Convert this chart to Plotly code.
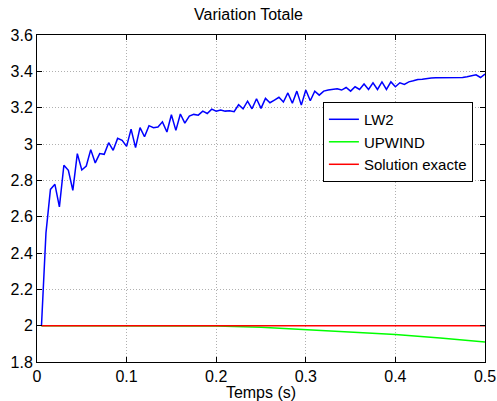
import plotly.graph_objects as go

# time grid (s), step 0.005
temps = [round(0.005 * k, 3) for k in range(1, 101)]

# Variation totale - schema LW2
tv_lw2 = [2.000, 2.510, 2.750, 2.778, 2.654, 2.883, 2.855, 2.745, 2.947, 2.857,
          2.879, 2.969, 2.896, 2.947, 2.943, 3.007, 2.965, 3.031, 3.020, 2.987,
          3.082, 2.980, 3.090, 3.040, 3.101, 3.090, 3.093, 3.122, 3.066, 3.161,
          3.075, 3.165, 3.115, 3.154, 3.163, 3.159, 3.181, 3.168, 3.192, 3.181,
          3.187, 3.181, 3.183, 3.178, 3.216, 3.194, 3.236, 3.194, 3.249, 3.196,
          3.251, 3.227, 3.242, 3.257, 3.231, 3.281, 3.224, 3.291, 3.214, 3.297,
          3.238, 3.291, 3.269, 3.291, 3.297, 3.300, 3.304, 3.297, 3.311, 3.291,
          3.315, 3.300, 3.330, 3.300, 3.337, 3.300, 3.342, 3.300, 3.342, 3.315,
          3.337, 3.328, 3.342, 3.348, 3.355, 3.357, 3.361, 3.363, 3.364, 3.364,
          3.364, 3.365, 3.365, 3.362, 3.366, 3.370, 3.374, 3.381, 3.366, 3.385]

# schema UPWIND (smooth curve)
temps_up = [0.005, 0.1, 0.15, 0.2, 0.25, 0.3, 0.35, 0.4, 0.45, 0.5]
tv_upwind = [2.000, 2.000, 2.000, 1.998, 1.991, 1.979, 1.966, 1.951, 1.932, 1.910]

# solution exacte
temps_ex = [0.005, 0.5]
tv_exacte = [2.0, 2.0]

FONT = "Liberation Sans, Arial, Helvetica, sans-serif"

fig = go.Figure()
fig.add_trace(go.Scatter(x=temps, y=tv_lw2, mode="lines", name="LW2",
                         line=dict(color="#0000FF", width=1.5)))
fig.add_trace(go.Scatter(x=temps_up, y=tv_upwind, mode="lines", name="UPWIND",
                         line=dict(color="#00FF00", width=1.5)))
fig.add_trace(go.Scatter(x=temps_ex, y=tv_exacte, mode="lines", name="Solution exacte",
                         line=dict(color="#FF0000", width=1.5)))

axis_style = dict(showline=True, linecolor="black", linewidth=1, mirror="ticks",
                  ticks="inside", ticklen=5, tickcolor="black", automargin=False,
                  showgrid=True, gridcolor="#b0b0b0", griddash="1px,2px", gridwidth=1,
                  zeroline=False, tickfont=dict(size=16, color="black", family=FONT))

fig.update_xaxes(range=[0, 0.5], dtick=0.1, tick0=0,
                 title=dict(text="Temps (s)", standoff=0,
                            font=dict(size=16, color="black", family=FONT)),
                 **axis_style)
fig.update_yaxes(range=[1.8, 3.6], dtick=0.2, tick0=1.8, **axis_style)

fig.update_layout(
    width=497, height=401,
    margin=dict(l=37, r=12, t=35, b=39, autoexpand=False),
    paper_bgcolor="white", plot_bgcolor="white",
    font=dict(family=FONT, size=16, color="black"),
    title=dict(text="Variation Totale", x=0.5, xanchor="center",
               y=0.965, yanchor="middle", font=dict(size=16, color="black")),
    showlegend=True,
    legend=dict(x=0.973, y=0.795, xanchor="right", yanchor="top",
                bgcolor="white", bordercolor="black", borderwidth=1,
                itemwidth=30, tracegroupgap=0,
                font=dict(size=15, color="black", family=FONT)),
)

# drop the browser's default 8px body margin so the chart sits at (0, 0)
fig.write_html("out.html", config={"displayModeBar": False},
               post_script="document.body.style.margin='0';document.body.style.overflow='hidden';")
